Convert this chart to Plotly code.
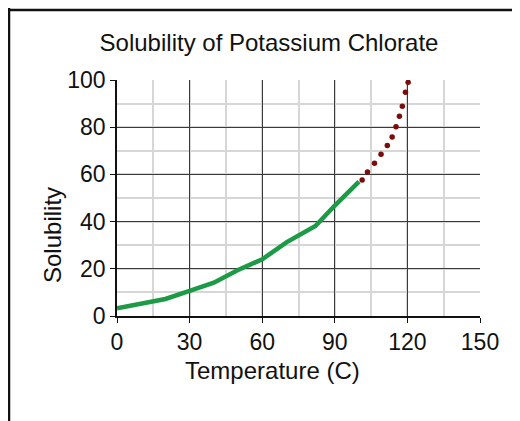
import plotly.graph_objects as go

# measured solubility (green line)
temp_measured = [0, 20, 30, 40, 50, 60, 70, 82, 90, 100]
sol_measured = [3.3, 7.2, 10.6, 14.1, 19.5, 24.0, 31.2, 38.1, 46.8, 56.9]

# extrapolated (dotted)
temp_extra = [101.3, 103.5, 106.4, 109.1, 111.7, 113.7, 115.3, 116.7, 117.9, 119.2, 120.3]
sol_extra = [57.6, 61.0, 64.7, 68.5, 72.2, 75.8, 80.2, 84.6, 88.9, 94.8, 99.0]

x_ticks = [0, 30, 60, 90, 120, 150]
y_ticks = [0, 20, 40, 60, 80, 100]

font = "Liberation Sans, Arial, sans-serif"

# page has an 8px body margin, so the figure is 512x413 and shifted
L, T, PW, PH = 109, 72, 363, 236
B = T + PH

fig = go.Figure()
fig.add_trace(go.Scatter(x=temp_measured, y=sol_measured, mode="lines",
                         line=dict(color="#1c9a45", width=4.5), showlegend=False))
fig.add_trace(go.Scatter(x=temp_extra, y=sol_extra, mode="markers",
                         marker=dict(color="#7a0c0c", size=5.5), showlegend=False))

fig.update_layout(
    width=512, height=413,
    margin=dict(l=L, r=512-L-PW, t=T, b=413-B),
    plot_bgcolor="white", paper_bgcolor="white",
    font=dict(family=font, size=23, color="#111"),
    title=dict(text="Solubility of Potassium Chlorate", x=261/512, xanchor="center",
               y=1-35/413, yanchor="middle", yref="container",
               font=dict(size=24, color="#111")),
    xaxis=dict(range=[0, 150], tickvals=x_ticks, showgrid=True, gridcolor="#3a3a3a", gridwidth=1,
               minor=dict(dtick=15, showgrid=True, gridcolor="#d6d6d6", gridwidth=2),
               showline=True, linecolor="#111", linewidth=1.5,
               ticks="outside", ticklen=5, tickcolor="#111", zeroline=False,
               tickfont=dict(size=23)),
    yaxis=dict(range=[0, 100], tickvals=y_ticks, showgrid=True, gridcolor="#3a3a3a", gridwidth=1,
               minor=dict(dtick=10, showgrid=True, gridcolor="#d6d6d6", gridwidth=2),
               showline=True, linecolor="#111", linewidth=1.5,
               ticks="outside", ticklen=5, tickcolor="#111", zeroline=False,
               tickfont=dict(size=23)),
    annotations=[
        dict(text="Temperature (C)", xref="paper", yref="paper",
             x=(264-L)/PW, y=(B-362)/PH, xanchor="center", yanchor="middle",
             showarrow=False, font=dict(size=24)),
        dict(text="Solubility", xref="paper", yref="paper",
             x=(44-L)/PW, y=(B-227)/PH, xanchor="center", yanchor="middle",
             textangle=-90, showarrow=False, font=dict(size=24)),
    ],
    shapes=[
        dict(type="line", xref="paper", yref="paper",
             x0=(0-L)/PW, x1=(520-L)/PW, y0=(B-2)/PH, y1=(B-2)/PH,
             line=dict(color="#111", width=2.5)),
        dict(type="line", xref="paper", yref="paper",
             x0=(1-L)/PW, x1=(1-L)/PW, y0=(B-0)/PH, y1=(B-420)/PH,
             line=dict(color="#111", width=2.5)),
    ],
)

fig.write_html("out.html")
